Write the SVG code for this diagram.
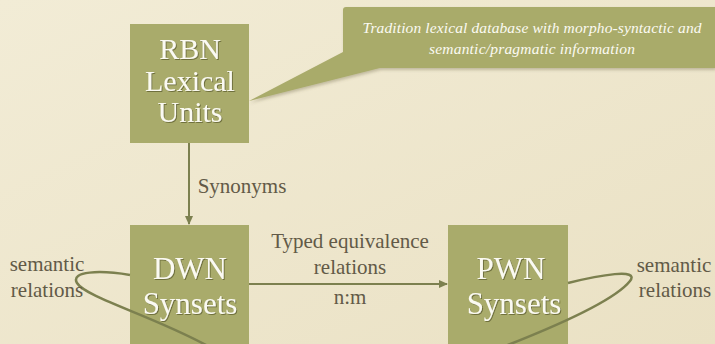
<svg xmlns="http://www.w3.org/2000/svg" width="715" height="344" viewBox="0 0 715 344">
<defs>
<linearGradient id="bg" x1="0" y1="0" x2="1" y2="1">
<stop offset="0" stop-color="#F2ECD6"/>
<stop offset="1" stop-color="#EAE1C4"/>
</linearGradient>
<filter id="ts" x="-10%" y="-10%" width="130%" height="130%">
<feDropShadow dx="1" dy="1" stdDeviation="0.6" flood-color="#4a4a20" flood-opacity="0.6"/>
</filter>
<filter id="bs" x="-5%" y="-5%" width="115%" height="120%">
<feDropShadow dx="1" dy="2" stdDeviation="1.5" flood-color="#6b6440" flood-opacity="0.35"/>
</filter>
<marker id="ah" markerWidth="10" markerHeight="10" refX="8" refY="5" orient="auto" markerUnits="userSpaceOnUse">
<path d="M0,1 L9,5 L0,9 z" fill="#7C804F"/>
</marker>
</defs>
<style>
.box{fill:#A9AB6B}
.ln{stroke:#7C804F;stroke-width:2;fill:none}
.lp{stroke:#7C804F;stroke-width:2.5;fill:none}
</style>
<rect width="715" height="344" fill="url(#bg)"/>
<g id="callout">
<path class="box" filter="url(#bs)" d="M346,7 L715,7 L715,68 L380,68 L249,101 L343,52 L343,10 Q343,7 346,7 z"/>
<text style="font-family:'Liberation Serif',serif;font-style:italic;font-size:15.5px;fill:#FBFAF2;text-anchor:middle" x="532" y="33" textLength="339" lengthAdjust="spacing">Tradition lexical database with morpho-syntactic and</text>
<text style="font-family:'Liberation Serif',serif;font-style:italic;font-size:15.5px;fill:#FBFAF2;text-anchor:middle" x="532" y="54" textLength="206" lengthAdjust="spacing">semantic/pragmatic information</text>
</g>
<g id="rbn">
<rect class="box" x="130" y="24" width="119" height="119"/>
<text style="font-family:'Liberation Serif',serif;font-size:30px;fill:#FBFAF2;text-anchor:middle" filter="url(#ts)" x="190" y="59">RBN</text>
<text style="font-family:'Liberation Serif',serif;font-size:30px;fill:#FBFAF2;text-anchor:middle" filter="url(#ts)" x="190" y="91">Lexical</text>
<text style="font-family:'Liberation Serif',serif;font-size:30px;fill:#FBFAF2;text-anchor:middle" filter="url(#ts)" x="190" y="122">Units</text>
</g>
<g id="dwn">
<rect class="box" x="130" y="225" width="119" height="125"/>
<text style="font-family:'Liberation Serif',serif;font-size:31px;fill:#FBFAF2;text-anchor:middle" filter="url(#ts)" x="190" y="279">DWN</text>
<text style="font-family:'Liberation Serif',serif;font-size:31px;fill:#FBFAF2;text-anchor:middle" filter="url(#ts)" x="190" y="314">Synsets</text>
</g>
<g id="pwn">
<rect class="box" x="448" y="225" width="120" height="125"/>
<text style="font-family:'Liberation Serif',serif;font-size:31px;fill:#FBFAF2;text-anchor:middle" filter="url(#ts)" x="511" y="279">PWN</text>
<text style="font-family:'Liberation Serif',serif;font-size:31px;fill:#FBFAF2;text-anchor:middle" filter="url(#ts)" x="514" y="314">Synsets</text>
</g>
<g id="connectors">
<line class="ln" x1="189" y1="143" x2="189" y2="224" marker-end="url(#ah)"/>
<line class="ln" x1="249" y1="284" x2="447" y2="284" marker-end="url(#ah)"/>
<path class="lp" d="M130,275 C100,270 70,271 77,283 C86,298 160,318 215,350"/>
<path class="lp" d="M568,283 C600,275 640,268 630,281 C615,300 560,325 495,350"/>
<text style="font-family:'Liberation Serif',serif;font-size:21px;fill:#625A47;text-anchor:middle" x="242" y="193">Synonyms</text>
<text style="font-family:'Liberation Serif',serif;font-size:21px;fill:#625A47;text-anchor:middle" x="350" y="248">Typed equivalence</text>
<text style="font-family:'Liberation Serif',serif;font-size:21px;fill:#625A47;text-anchor:middle" x="350" y="274">relations</text>
<text style="font-family:'Liberation Serif',serif;font-size:21px;fill:#625A47;text-anchor:middle" x="350" y="304">n:m</text>
</g>
<g id="labels">
<text style="font-family:'Liberation Serif',serif;font-size:21px;fill:#625A47;text-anchor:middle" x="47" y="271">semantic</text>
<text style="font-family:'Liberation Serif',serif;font-size:21px;fill:#625A47;text-anchor:middle" x="47" y="297">relations</text>
<text style="font-family:'Liberation Serif',serif;font-size:21px;fill:#625A47;text-anchor:middle" x="674" y="272">semantic</text>
<text style="font-family:'Liberation Serif',serif;font-size:21px;fill:#625A47;text-anchor:middle" x="675" y="297">relations</text>
</g>
</svg>
